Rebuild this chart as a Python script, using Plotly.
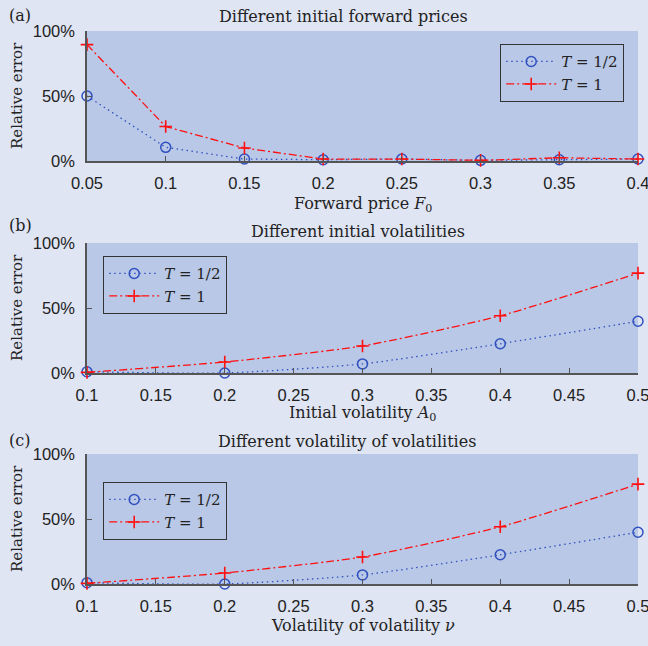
import plotly.graph_objects as go

# Panel (a): different initial forward prices
fwd_prices = [0.05, 0.1, 0.15, 0.2, 0.25, 0.3, 0.35, 0.4]
fwd_err_half = [0.50, 0.105, 0.015, 0.01, 0.015, 0.005, 0.01, 0.015]
fwd_err_one = [0.895, 0.265, 0.10, 0.015, 0.015, 0.005, 0.025, 0.015]
fwd_ticks = ["0.05", "0.1", "0.15", "0.2", "0.25", "0.3", "0.35", "0.4"]

# Panel (b): different initial volatilities
init_vols = [0.1, 0.2, 0.3, 0.4, 0.5]
vol_err_half = [0.01, 0.0, 0.07, 0.225, 0.398]
vol_err_one = [0.005, 0.085, 0.208, 0.44, 0.768]

# Panel (c): different volatility of volatilities
volvols = [0.1, 0.2, 0.3, 0.4, 0.5]
vv_err_half = [0.01, 0.0, 0.07, 0.225, 0.398]
vv_err_one = [0.005, 0.085, 0.208, 0.44, 0.768]
vol_ticks_vals = [0.1, 0.15, 0.2, 0.25, 0.3, 0.35, 0.4, 0.45, 0.5]
vol_ticks = ["0.1", "0.15", "0.2", "0.25", "0.3", "0.35", "0.4", "0.45", "0.5"]

y_ticks_vals = [0, 0.5, 1]
y_ticks = ["0%", "50%", "100%"]

W, H = 648, 646
FIG_BG = "#DFE5F3"
PLOT_BG = "#B8C8E6"
AX_COL = "#555555"
TXT = "#222222"
BLUE = "#3050C0"
RED = "#FF1010"
SERIF = "DejaVu Serif"
SANS = "Liberation Sans"
SERIF_SIZE = 16
TICK_SIZE = 16.5

fig = go.Figure()

panels = [
    ("", fwd_prices, fwd_err_half, fwd_err_one, "linear", "legend"),
    ("2", init_vols, vol_err_half, vol_err_one, "spline", "legend2"),
    ("3", volvols, vv_err_half, vv_err_one, "spline", "legend3"),
]
for suf, xs, yh, yo, shape, leg in panels:
    fig.add_trace(go.Scatter(
        x=xs, y=yh, mode="lines+markers", name="<i>T</i> = 1/2",
        line=dict(color=BLUE, width=1.3, dash="1.5px,3.5px", shape=shape, smoothing=0.6),
        marker=dict(symbol="circle-open", size=10, color=BLUE, line=dict(width=1.5, color=BLUE)),
        xaxis="x" + suf, yaxis="y" + suf, legend=leg, cliponaxis=False))
    fig.add_trace(go.Scatter(
        x=xs, y=yo, mode="lines+markers", name="<i>T</i> = 1",
        line=dict(color=RED, width=1.3, dash="8px,3px,2px,3px", shape=shape, smoothing=0.6),
        marker=dict(symbol="cross-thin-open", size=9, color=RED, line=dict(width=1.6, color=RED)),
        xaxis="x" + suf, yaxis="y" + suf, legend=leg, cliponaxis=False))

x0, x1 = 87 / W, 638 / W
def ydom(top, bot):
    return [1 - bot / H, 1 - top / H]

common_x = dict(showline=True, linecolor=AX_COL, linewidth=1.5, mirror=False,
                ticks="inside", ticklen=5, tickwidth=1.3, tickcolor=AX_COL,
                showgrid=False, zeroline=False, domain=[x0, x1], automargin=False,
                ticklabelstandoff=6, ticklabeloverflow="allow",
                tickfont=dict(family=SANS, size=TICK_SIZE, color=TXT))
common_y = dict(showline=True, linecolor=AX_COL, linewidth=1.5, mirror=False,
                ticks="inside", ticklen=5, tickwidth=1.3, tickcolor=AX_COL,
                showgrid=False, zeroline=False, range=[0, 1], automargin=False,
                ticklabelstandoff=7, ticklabeloverflow="allow",
                tickvals=y_ticks_vals, ticktext=y_ticks,
                tickfont=dict(family=SANS, size=TICK_SIZE, color=TXT))

fig.update_layout(
    width=W, height=H, margin=dict(l=0, r=0, t=0, b=0), autosize=False,
    paper_bgcolor=FIG_BG, plot_bgcolor=PLOT_BG,
    xaxis=dict(common_x, range=[0.05, 0.4], tickvals=fwd_prices, ticktext=fwd_ticks, anchor="y"),
    yaxis=dict(common_y, domain=ydom(31, 161), anchor="x"),
    xaxis2=dict(common_x, range=[0.1, 0.5], tickvals=vol_ticks_vals, ticktext=vol_ticks, anchor="y2"),
    yaxis2=dict(common_y, domain=ydom(243, 373), anchor="x2"),
    xaxis3=dict(common_x, range=[0.1, 0.5], tickvals=vol_ticks_vals, ticktext=vol_ticks, anchor="y3"),
    yaxis3=dict(common_y, domain=ydom(454, 584), anchor="x3"),
    showlegend=True,
)

leg_common = dict(bgcolor=PLOT_BG, bordercolor="#333333", borderwidth=1.2,
                  font=dict(family=SERIF, size=15, color=TXT),
                  xanchor="left", yanchor="top", tracegroupgap=0, itemwidth=50)
fig.update_layout(
    legend=dict(leg_common, x=500 / W, y=1 - 44 / H),
    legend2=dict(leg_common, x=103 / W, y=1 - 256 / H),
    legend3=dict(leg_common, x=103 / W, y=1 - 482 / H),
)

def note(text, x, y, xanchor="center", angle=0, size=SERIF_SIZE):
    fig.add_annotation(text=text, x=x / W, y=1 - y / H, xref="paper", yref="paper",
                       showarrow=False, xanchor=xanchor, yanchor="middle", textangle=angle,
                       font=dict(family=SERIF, size=size, color=TXT))

xc = (87 + 638) / 2
# panel titles and labels
note("Different initial forward prices", 343, 17)
note("Different initial volatilities", 358, 231)
note("Different volatility of volatilities", 347, 441)
note("(a)", 7, 15, xanchor="left")
note("(b)", 7, 225, xanchor="left")
note("(c)", 7, 440, xanchor="left")
# axis titles
note("Forward price <i>F</i><sub>0</sub>", xc, 204)
note("Initial volatility <i>A</i><sub>0</sub>", xc, 413)
note("Volatility of volatility <i>ν</i>", xc, 625)
note("Relative error", 17, 96, angle=-90, size=15)
note("Relative error", 17, 308, angle=-90, size=15)
note("Relative error", 17, 519, angle=-90, size=15)

fig.write_html("out.html", config={"displayModeBar": False},
               post_script="document.body.style.margin='0';document.body.style.overflow='hidden';")
